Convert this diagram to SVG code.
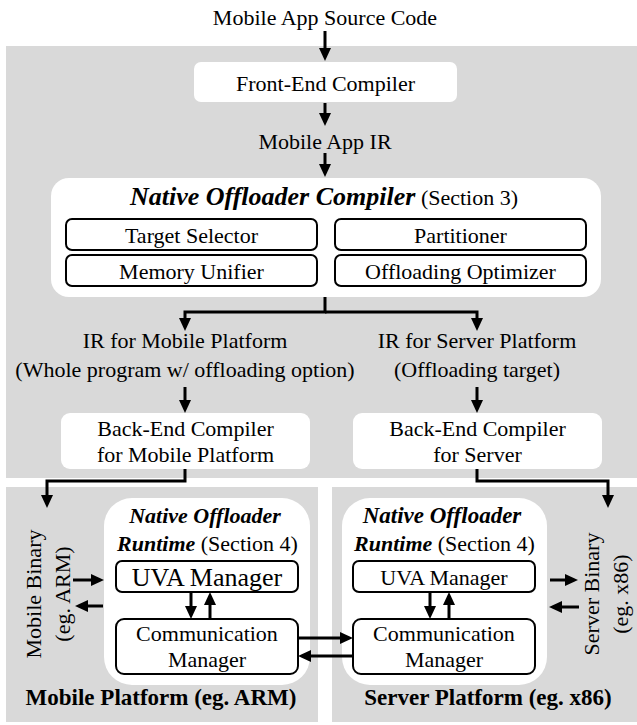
<svg xmlns="http://www.w3.org/2000/svg" width="637" height="725" viewBox="0 0 637 725" font-family="'Liberation Serif', 'DejaVu Serif', serif">
  <defs>
    <style>
      text { font-family: "Liberation Serif", "DejaVu Serif", serif; font-size: 22px; font-weight: normal; font-style: normal; fill: #000; text-anchor: middle; }
      .panel { fill: #d9d9d9; }
      .wbox { fill: #ffffff; }
      .sbox { fill: #ffffff; stroke: #000; stroke-width: 2; }
      .arr { fill: none; stroke: #000; stroke-width: 3; stroke-linejoin: miter; marker-end: url(#ah); }
      .bi { font-weight: bold; font-style: italic; }
      .big { font-size: 26px; }
      .lbl { font-weight: bold; font-size: 23px; }
    </style>
    <marker id="ah" markerUnits="userSpaceOnUse" markerWidth="13" markerHeight="13" viewBox="0 0 13 13" refX="3" refY="6.5" orient="auto">
      <path d="M0,0.5 L13,6.5 L0,12.5 z" fill="#000"/>
    </marker>
  </defs>

  <g id="panels">
    <rect class="panel" x="6" y="46" width="631" height="432"/>
    <rect class="panel" x="6" y="487" width="312" height="235"/>
    <rect class="panel" x="332" y="487" width="305" height="235"/>
  </g>

  <g id="source">
    <text x="325" y="25">Mobile App Source Code</text>
  </g>

  <g id="frontend">
    <rect class="wbox" x="194" y="62" width="263" height="40" rx="7"/>
    <text x="325.5" y="91">Front-End Compiler</text>
  </g>

  <g id="appir">
    <text x="325" y="149">Mobile App IR</text>
  </g>

  <g id="compiler">
    <rect class="wbox" x="51" y="178" width="550" height="119" rx="18"/>
    <text x="324" y="205"><tspan class="bi big">Native Offloader Compiler</tspan> (Section 3)</text>
  </g>
  <g id="target-selector">
    <rect class="sbox" x="66" y="219" width="251" height="31" rx="6"/>
    <text x="191.5" y="243">Target Selector</text>
  </g>
  <g id="partitioner">
    <rect class="sbox" x="335" y="219" width="251" height="31" rx="6"/>
    <text x="460.5" y="243">Partitioner</text>
  </g>
  <g id="memory-unifier">
    <rect class="sbox" x="66" y="255" width="251" height="31" rx="6"/>
    <text x="191.5" y="279">Memory Unifier</text>
  </g>
  <g id="offloading-optimizer">
    <rect class="sbox" x="335" y="255" width="251" height="31" rx="6"/>
    <text x="460.5" y="279">Offloading Optimizer</text>
  </g>

  <g id="ir-mobile">
    <text x="185" y="348">IR for Mobile Platform</text>
    <text x="185" y="377">(Whole program w/ offloading option)</text>
  </g>
  <g id="ir-server">
    <text x="477" y="348">IR for Server Platform</text>
    <text x="477" y="377">(Offloading target)</text>
  </g>

  <g id="backend-mobile">
    <rect class="wbox" x="61" y="413" width="249" height="56" rx="9"/>
    <text x="185.5" y="436">Back-End Compiler</text>
    <text x="185.5" y="462">for Mobile Platform</text>
  </g>
  <g id="backend-server">
    <rect class="wbox" x="353" y="413" width="249" height="56" rx="9"/>
    <text x="477.5" y="436">Back-End Compiler</text>
    <text x="477.5" y="462">for Server</text>
  </g>

  <g id="mobile-platform">
    <rect class="wbox" x="104" y="498" width="206" height="187" rx="28"/>
    <text x="205" y="523" class="bi">Native Offloader</text>
    <text x="207.5" y="551"><tspan class="bi">Runtime</tspan> (Section 4)</text>
    <text class="lbl" x="161" y="705">Mobile Platform (eg. ARM)</text>
  </g>
  <g id="mobile-uva">
    <rect class="sbox" x="116" y="561" width="182" height="31" rx="6"/>
    <text x="207" y="586" font-size="26" style="font-size:26px">UVA Manager</text>
  </g>
  <g id="mobile-comm">
    <rect class="sbox" x="116" y="619" width="182" height="55" rx="8"/>
    <text x="207" y="641">Communication</text>
    <text x="207" y="667">Manager</text>
  </g>
  <g id="mobile-binary">
    <text transform="rotate(-90 41 594)" x="41" y="594">Mobile Binary</text>
    <text transform="rotate(-90 70 594)" x="70" y="594">(eg. ARM)</text>
  </g>

  <g id="server-platform">
    <rect class="wbox" x="342" y="498" width="205" height="187" rx="28"/>
    <text x="442" y="523" class="bi" style="font-size:23px">Native Offloader</text>
    <text x="444.5" y="551"><tspan class="bi">Runtime</tspan> (Section 4)</text>
    <text class="lbl" x="488" y="705">Server Platform (eg. x86)</text>
  </g>
  <g id="server-uva">
    <rect class="sbox" x="353" y="561" width="182" height="31" rx="6"/>
    <text x="444" y="585">UVA Manager</text>
  </g>
  <g id="server-comm">
    <rect class="sbox" x="353" y="619" width="182" height="55" rx="8"/>
    <text x="444" y="641">Communication</text>
    <text x="444" y="667">Manager</text>
  </g>
  <g id="server-binary">
    <text transform="rotate(-90 599 594)" x="599" y="594">Server Binary</text>
    <text transform="rotate(-90 628 594)" x="628" y="594">(eg. x86)</text>
  </g>

  <g id="connectors">
    <path class="arr" d="M325,31 V51"/>
    <path class="arr" d="M325,103 V116"/>
    <path class="arr" d="M325,153 V167"/>
    <path class="arr" d="M325,297 V312 H185 V321"/>
    <path class="arr" d="M325,312 H477 V321"/>
    <path class="arr" d="M185,387 V403"/>
    <path class="arr" d="M477,387 V403"/>
    <path class="arr" d="M185,469 V481 H47 V498"/>
    <path class="arr" d="M477,469 V481 H608 V498"/>
    <path class="arr" d="M73,580 H94"/>
    <path class="arr" d="M103,606 H85"/>
    <path class="arr" d="M550,580 H568"/>
    <path class="arr" d="M579,607 H559"/>
    <path class="arr" d="M191,592 V609"/>
    <path class="arr" d="M210,619 V602"/>
    <path class="arr" d="M430,592 V609"/>
    <path class="arr" d="M449,619 V602"/>
    <path class="arr" d="M298,638 H343"/>
    <path class="arr" d="M353,656 H308"/>
  </g>
</svg>
